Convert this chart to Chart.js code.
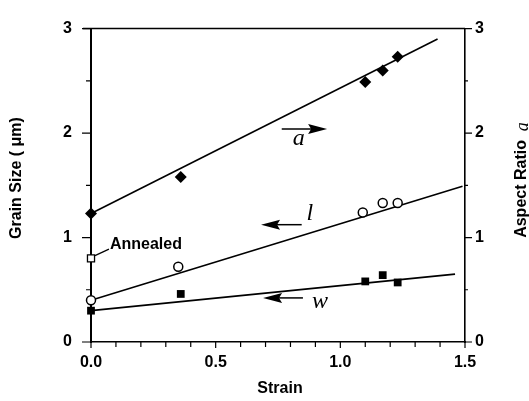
<!DOCTYPE html>
<html>
<head>
<meta charset="utf-8">
<script src="https://cdn.jsdelivr.net/npm/chart.js@4.4.0/dist/chart.umd.min.js"></script>
<style>
  html, body { margin: 0; padding: 0; background: #fff; }
  #wrap { width: 529px; height: 401px; position: relative; }
</style>
</head>
<body>
<div id="wrap"><canvas id="c" width="529" height="401"></canvas></div>
<script>
// ---- data ----
const strainA = [0.00, 0.36, 1.10, 1.17, 1.23];
const aspectA = [1.23, 1.58, 2.49, 2.60, 2.73];

const strainL = [0.00, 0.35, 1.09, 1.17, 1.23];
const lengthL = [0.40, 0.72, 1.24, 1.33, 1.33];

const strainW = [0.00, 0.36, 1.10, 1.17, 1.23];
const widthW  = [0.30, 0.46, 0.58, 0.64, 0.57];

const annealedStrain = [0.00];
const annealedSize   = [0.80];

// fitted lines (end points)
const fitAx = [0.00, 1.39], fitAy = [1.23, 2.90];
const fitLx = [0.00, 1.49], fitLy = [0.40, 1.49];
const fitWx = [0.00, 1.46], fitWy = [0.30, 0.65];

const xTickLabels = ['0.0', '0.5', '1.0', '1.5'];
const yTickLabels = ['0', '1', '2', '3'];

const toPts = (xs, ys) => xs.map((x, i) => ({ x: x, y: ys[i] }));

const SANS = '"Liberation Sans", Arial, Helvetica, sans-serif';
const SERIF = '"Liberation Serif", "Times New Roman", serif';

const decor = {
  id: 'decor',
  afterDraw(chart) {
    const ctx = chart.ctx;
    const xs = chart.scales.x, ys = chart.scales.y;
    const ca = chart.chartArea;
    const px = v => xs.getPixelForValue(v);
    const py = v => ys.getPixelForValue(v);
    ctx.save();
    ctx.strokeStyle = '#000';
    ctx.fillStyle = '#000';
    ctx.lineWidth = 1.5;
    // top frame line
    ctx.beginPath();
    ctx.moveTo(ca.left - 8, ca.top);
    ctx.lineTo(ca.right, ca.top);
    ctx.stroke();
    // y ticks
    ctx.lineWidth = 1.2;
    for (let k = 0; k <= 6; k++) {
      const v = k * 0.5;
      const major = (k % 2 === 0);
      const y = py(v);
      ctx.beginPath();
      ctx.moveTo(ca.left - (major ? 9 : 5), y);
      ctx.lineTo(ca.left, y);
      ctx.moveTo(ca.right, y);
      ctx.lineTo(ca.right + (major ? 7 : 3), y);
      ctx.stroke();
    }
    // x ticks
    for (let k = 0; k <= 15; k++) {
      const v = k / 10;
      const x = px(v);
      ctx.beginPath();
      ctx.moveTo(x, ca.bottom);
      ctx.lineTo(x, ca.bottom + (k % 5 === 0 ? 6 : 5));
      ctx.stroke();
    }

    // arrows
    function arrow(x0, x1, yv) {
      const X0 = px(x0), X1 = px(x1), Y = py(yv);
      const dir = Math.sign(X1 - X0);
      ctx.lineWidth = 1.5;
      ctx.beginPath();
      ctx.moveTo(X0, Y);
      ctx.lineTo(X1 - dir * 12, Y);
      ctx.stroke();
      ctx.beginPath();
      ctx.moveTo(X1, Y);
      ctx.lineTo(X1 - dir * 19, Y - 5);
      ctx.lineTo(X1 - dir * 16, Y);
      ctx.lineTo(X1 - dir * 19, Y + 5);
      ctx.closePath();
      ctx.fill();
    }
    arrow(0.765, 0.947, 2.04);  // a -> right axis
    arrow(0.845, 0.682, 1.123); // l -> left axis
    arrow(0.850, 0.690, 0.422); // w -> left axis

    // italic symbol labels
    ctx.font = 'italic 24px ' + SERIF;
    ctx.textAlign = 'center';
    ctx.textBaseline = 'alphabetic';
    ctx.fillText('a', px(0.833), py(1.885));
    ctx.fillText('l', px(0.878), py(1.168));
    ctx.fillText('w', px(0.918), py(0.329));

    // Annealed label with leader
    ctx.lineWidth = 1.2;
    ctx.beginPath();
    ctx.moveTo(px(0.016), py(0.827));
    ctx.lineTo(px(0.072), py(0.889));
    ctx.stroke();
    ctx.font = 'bold 16px ' + SANS;
    ctx.textAlign = 'left';
    ctx.textBaseline = 'middle';
    ctx.fillText('Annealed', px(0.076), py(0.93));

    // x title
    ctx.textAlign = 'center';
    ctx.fillText('Strain', (ca.left + ca.right) / 2 + 2, 389);

    // left title
    ctx.save();
    ctx.translate(17, 178);
    ctx.rotate(-Math.PI / 2);
    ctx.textAlign = 'center';
    ctx.textBaseline = 'middle';
    ctx.font = 'bold 16px ' + SANS;
    ctx.fillText('Grain Size ( \u03bcm)', 0, 0);
    ctx.restore();

    // right title
    ctx.save();
    ctx.translate(522, 180);
    ctx.rotate(-Math.PI / 2);
    ctx.textBaseline = 'middle';
    ctx.font = 'bold 16px ' + SANS;
    const t1 = 'Aspect Ratio  ';
    const w1 = ctx.measureText(t1).width;
    ctx.font = 'italic 18px ' + SERIF;
    const w2 = ctx.measureText('a').width;
    const start = -(w1 + w2) / 2;
    ctx.font = 'bold 16px ' + SANS;
    ctx.textAlign = 'left';
    ctx.fillText(t1, start, 0);
    ctx.font = 'italic 18px ' + SERIF;
    ctx.fillText('a', start + w1, 1);
    ctx.restore();

    ctx.restore();
  }
};

const lineDs = (xs, ys, axis) => ({
  type: 'scatter',
  data: toPts(xs, ys),
  yAxisID: axis,
  showLine: true,
  borderColor: '#000',
  borderWidth: 1.6,
  pointRadius: 0,
  fill: false,
  clip: false,
  order: 2
});

new Chart(document.getElementById('c'), {
  type: 'scatter',
  data: {
    datasets: [
      lineDs(fitAx, fitAy, 'y2'),
      lineDs(fitLx, fitLy, 'y'),
      lineDs(fitWx, fitWy, 'y'),
      {
        label: 'a', data: toPts(strainA, aspectA), yAxisID: 'y2',
        pointStyle: 'rectRot', pointRadius: 6, backgroundColor: '#000', borderColor: '#000',
        borderWidth: 0, clip: false, order: 1
      },
      {
        label: 'l', data: toPts(strainL, lengthL), yAxisID: 'y',
        pointStyle: 'circle', pointRadius: 4.5, backgroundColor: '#fff', borderColor: '#000',
        borderWidth: 1.5, clip: false, order: 1
      },
      {
        label: 'w', data: toPts(strainW, widthW), yAxisID: 'y',
        pointStyle: 'rect', pointRadius: 5.5, backgroundColor: '#000', borderColor: '#000',
        borderWidth: 0, clip: false, order: 1
      },
      {
        label: 'Annealed', data: toPts(annealedStrain, annealedSize), yAxisID: 'y',
        pointStyle: 'rect', pointRadius: 5, backgroundColor: '#fff', borderColor: '#000',
        borderWidth: 1.3, clip: false, order: 1
      }
    ]
  },
  options: {
    responsive: false,
    animation: false,
    devicePixelRatio: 1,
    layout: { padding: { top: 20, left: 0, right: 0, bottom: 0 } },
    plugins: { legend: { display: false }, tooltip: { enabled: false } },
    scales: {
      x: {
        type: 'linear', min: 0, max: 1.5,
        grid: { display: false, drawTicks: false },
        border: { display: true, color: '#000', width: 1.6 },
        ticks: {
          stepSize: 0.5, padding: 11, color: '#000', autoSkip: false, maxRotation: 0,
          font: { family: SANS, size: 16, weight: 'bold' },
          callback: (v) => { const i = Math.round(v * 2); return Math.abs(v * 2 - i) < 1e-6 ? xTickLabels[i] : ''; }
        },
        afterFit: (s) => { s.height = 59; }
      },
      y: {
        type: 'linear', position: 'left', min: 0, max: 3,
        grid: { display: false, drawTicks: false },
        border: { display: true, color: '#000', width: 2 },
        ticks: {
          stepSize: 1, padding: 19, color: '#000',
          font: { family: SANS, size: 16, weight: 'bold' },
          callback: (v) => yTickLabels[Math.round(v)]
        },
        afterFit: (s) => { s.width = 91; }
      },
      y2: {
        type: 'linear', position: 'right', min: 0, max: 3,
        grid: { display: false, drawTicks: false },
        border: { display: true, color: '#000', width: 1.6 },
        ticks: {
          stepSize: 1, padding: 10, color: '#000',
          font: { family: SANS, size: 16, weight: 'bold' },
          callback: (v) => yTickLabels[Math.round(v)]
        },
        afterFit: (s) => { s.width = 64; }
      }
    }
  },
  plugins: [decor]
});
</script>
</body>
</html>
